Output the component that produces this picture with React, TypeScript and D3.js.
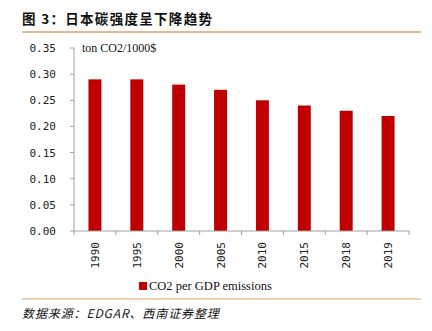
import React from "react";
import * as d3 from "d3";

const categories = ["1990", "1995", "2000", "2005", "2010", "2015", "2018", "2019"];
const values = [0.29, 0.29, 0.28, 0.27, 0.25, 0.24, 0.23, 0.22];
const yTicks = [0, 0.05, 0.1, 0.15, 0.2, 0.25, 0.3, 0.35];
const title = "图 3：日本碳强度呈下降趋势";
const unitLabel = "ton CO2/1000$";
const seriesName = "CO2 per GDP emissions";
const source = "数据来源：EDGAR、西南证券整理";

export default function App() {
  const W = 432, H = 331;
  const left = 74, right = 409, top = 48, bottom = 231;
  const x = d3.scaleBand<string>().domain(categories).range([left, right]).paddingInner(0.69).paddingOuter(0.345);
  const xb = d3.scaleBand<string>().domain(categories).range([left, right]);
  const y = d3.scaleLinear().domain([0, 0.35]).range([bottom, top]);
  const red = "#C00000";
  const axisColor = "#A0A0A0";
  const mono = "'DejaVu Sans Mono', monospace";
  const serif = "'Liberation Serif', 'Times New Roman', serif";
  return (
    <svg width={W} height={H} style={{ position: "absolute", left: 0, top: 0 }}>
      <rect width={W} height={H} fill="#fff" />
      <text x={22} y={24} fontSize={13.5} fontWeight="bold" letterSpacing={1.3} fontFamily="'Noto Sans CJK SC', sans-serif" fill="#111">{title}</text>
      <line x1={22} x2={421} y1={32} y2={32} stroke="#D9A566" strokeWidth={1.5} />
      <text x={82} y={52} fontSize={12} fontFamily={serif} fill="#111">{unitLabel}</text>
      {values.map((v, i) => (
        <rect key={categories[i]} x={x(categories[i])!} width={x.bandwidth()} y={y(v)} height={bottom - y(v)} fill={red} />
      ))}
      <line x1={left} x2={left} y1={top} y2={bottom} stroke={axisColor} />
      {yTicks.map((t) => (
        <g key={t}>
          <line x1={left - 4} x2={left} y1={y(t)} y2={y(t)} stroke={axisColor} />
          <text x={56} y={y(t) + 4} fontSize={11} fontFamily={mono} textAnchor="end" fill="#222">{t.toFixed(2)}</text>
        </g>
      ))}
      <line x1={left} x2={right} y1={bottom} y2={bottom} stroke={axisColor} />
      {categories.map((c) => (
        <line key={"t" + c} x1={xb(c)!} x2={xb(c)!} y1={bottom} y2={bottom + 4} stroke={axisColor} />
      ))}
      <line x1={right} x2={right} y1={bottom} y2={bottom + 4} stroke={axisColor} />
      {categories.map((c) => {
        const cx = xb(c)! + xb.bandwidth() / 2;
        return (
          <text key={"l" + c} transform={`translate(${cx + 4},${242}) rotate(-90)`} fontSize={11} fontFamily={mono} textAnchor="end" fill="#222">{c}</text>
        );
      })}
      <rect x={139} y={282} width={8} height={8} fill={red} />
      <text x={149} y={290} fontSize={12.5} fontFamily={serif} fill="#111">{seriesName}</text>
      <line x1={22} x2={421} y1={299} y2={299} stroke="#D9A566" strokeWidth={1.2} />
      <text x={22} y={318} fontSize={12} fontStyle="italic" letterSpacing={0.9} fontFamily="'Noto Sans CJK SC', sans-serif" fill="#111">{source}</text>
    </svg>
  );
}
